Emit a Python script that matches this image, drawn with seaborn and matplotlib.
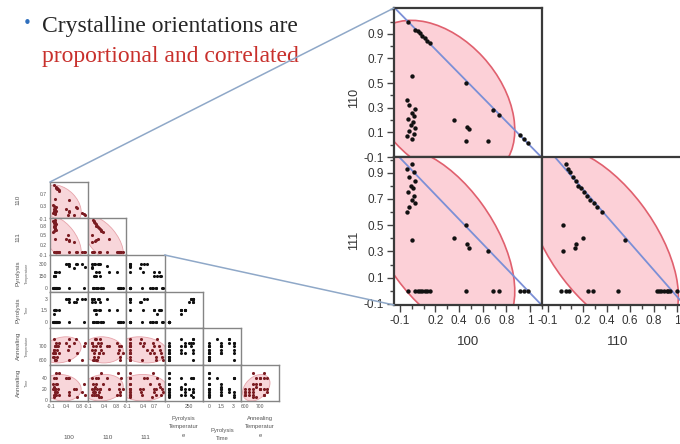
import numpy as np
import pandas as pd
import matplotlib
matplotlib.use("Agg")
import matplotlib.pyplot as plt
import seaborn as sns
from matplotlib.patches import Ellipse
from matplotlib.lines import Line2D
from matplotlib.ticker import FixedLocator

# ---------------- data (one row per sample) ----------------
o100 = [-0.03, 0.03, 0.05, 0.07, 0.09, 0.11, 0.13, 0.15, 0.46, 0.69, 0.74, 0.91, 0.95, 0.985,
        0.455, 0.645,
        0.0, -0.04, 0.02, -0.02, 0.03, -0.01, 0.01, -0.03, 0.02, 0.0, 0.03, -0.02,
        0.0, -0.04, 0.36, 0.47, 0.48]
o110 = [1.00, 0.935, 0.92, 0.91, 0.885, 0.865, 0.845, 0.825, 0.50, 0.285, 0.24, 0.08, 0.05, 0.015,
        0.03, 0.03,
        0.05, 0.07, 0.09, 0.11, 0.135, 0.16, 0.185, 0.21, 0.235, 0.26, 0.29, 0.32,
        0.56, 0.36, 0.20, 0.14, 0.13]
o111 = [0.0, 0.0, 0.0, 0.0, 0.0, 0.0, 0.0, 0.0, 0.0, 0.0, 0.0, 0.0, 0.0, 0.0,
        0.50, 0.305,
        0.965, 0.93, 0.905, 0.87, 0.84, 0.80, 0.78, 0.755, 0.72, 0.695, 0.67, 0.64,
        0.39, 0.60, 0.40, 0.355, 0.33]
pyro_temp = [0, 0, 0, 0, 0, 0, 0, 200, 280, 300, 300, 300, 0, 270,
             300, 250,
             0, 0, 150, 150, 200, 150, 0, 0, 200, 150, 0, 0,
             200, 0, 300, 0, 300]
pyro_time = [0, 0, 0, 0, 0, 0, 0, 1.5, 3, 2.5, 3, 3, 0, 3,
             3, 2.5,
             0, 0, 1.5, 1.5, 1.5, 1, 0, 0, 1.5, 1.5, 0, 0,
             1.5, 0, 3, 0, 2.5]
anneal_temp = [650, 700, 600, 625, 675, 700, 650, 725, 700, 750, 650, 600, 700, 725,
               675, 725,
               600, 625, 650, 675, 700, 750, 600, 625, 650, 700, 725, 675,
               700, 650, 725, 600, 750]
anneal_time = [20, 40, 10, 15, 30, 20, 50, 10, 40, 20, 5, 15, 30, 10,
               40, 20,
               15, 20, 10, 25, 30, 40, 20, 10, 15, 20, 50, 5,
               20, 30, 40, 10, 15]

variables = ["o100", "o110", "o111", "ptemp", "ptime", "atemp", "atime"]
row_titles = {"o110": ("110", None), "o111": ("111", None),
              "ptemp": ("Pyrolysis", "Temperature"), "ptime": ("Pyrolysis", "Time"),
              "atemp": ("Annealing", "Temperature"), "atime": ("Annealing", "Time")}
col_titles = {"o100": ["100"], "o110": ["110"], "o111": ["111"],
              "ptemp": ["Pyrolysis", "Temperatur", "e"], "ptime": ["Pyrolysis", "Time"],
              "atemp": ["Annealing", "Temperatur", "e"]}
small_ticks = {"o100": [-0.1, 0.4, 0.8], "o110": [-0.1, 0.3, 0.7], "o111": [-0.1, 0.2, 0.5, 0.8],
               "ptemp": [0, 150, 300], "ptime": [0, 1.5, 3], "atemp": [600, 700], "atime": [0, 20, 40]}
small_xticks = {"o100": [-0.1, 0.4, 0.8], "o110": [-0.1, 0.4, 0.8], "o111": [-0.1, 0.4, 0.7],
                "ptemp": [0, 250], "ptime": [0, 1.5, 3], "atemp": [600, 700]}
zoom_yticks = [-0.1, 0.1, 0.3, 0.5, 0.7, 0.9]
zoom_xticks = [-0.1, 0.2, 0.4, 0.6, 0.8, 1.0]
zoom_xlabels = ["-0.1", "0.2", "0.4", "0.6", "0.8", "1"]

title_line1 = "Crystalline orientations are"
title_line2 = "proportional and correlated"

df = pd.DataFrame({"o100": o100, "o110": o110, "o111": o111, "ptemp": pyro_temp,
                   "ptime": pyro_time, "atemp": anneal_temp, "atime": anneal_time})

# ---------------- style ----------------
sns.set_theme(style="white")
plt.rcParams["font.family"] = ["Liberation Sans", "DejaVu Sans"]
plt.rcParams["axes.unicode_minus"] = False

W, H = 680, 444
fig = plt.figure(figsize=(W / 100, H / 100), dpi=100)
fig.patch.set_facecolor("white")


def px_axes(l, t, r, b):
    return fig.add_axes([l / W, 1 - b / H, (r - l) / W, (b - t) / H])


def density_ellipse(ax, x, y, level, fc, ec, lw):
    x = np.asarray(x, float)
    y = np.asarray(y, float)
    cov = np.cov(x, y)
    vals, vecs = np.linalg.eigh(cov)
    k = np.sqrt(-2 * np.log(1 - level))
    ang = np.degrees(np.arctan2(vecs[1, 1], vecs[0, 1]))
    e = Ellipse((x.mean(), y.mean()), 2 * k * np.sqrt(vals[1]), 2 * k * np.sqrt(vals[0]),
                angle=ang, fc=fc, ec=ec, lw=lw, zorder=0)
    e.set_clip_path(ax.patch)
    ax.add_patch(e)


lims = {"o100": (-0.15, 1.10), "o110": (-0.10, 1.11), "o111": (-0.108, 1.02),
        "ptemp": (-50, 420), "ptime": (-0.75, 3.9), "atemp": (570, 830), "atime": (-2, 66)}

# ---------------- title text ----------------
fig.text(27 / W, 1 - 23 / H, "\u2022", color="#2f6fbd", fontsize=11, ha="center", va="center",
         family="DejaVu Sans")
fig.text(42 / W, 1 - 32 / H, title_line1, fontsize=17, family="Liberation Serif",
         color="#262626", va="baseline")
fig.text(42 / W, 1 - 62 / H, title_line2, fontsize=17, family="Liberation Serif",
         color="#c8302c", va="baseline")

# ---------------- small scatterplot matrix ----------------
x0, cw, y0, ch = 50, 38.2, 182, 36.5
pink_pairs = {("o110", "o100"), ("o111", "o100"), ("o111", "o110"),
              ("atemp", "o100"), ("atemp", "o110"), ("atemp", "o111"),
              ("atime", "o100"), ("atime", "o110"), ("atime", "o111"), ("atime", "atemp")}
rows = variables[1:]
cols = variables[:-1]
small_axes = {}
for i, rv in enumerate(rows):
    for j, cv in enumerate(cols[: i + 1]):
        ax = px_axes(x0 + j * cw, y0 + i * ch, x0 + (j + 1) * cw, y0 + (i + 1) * ch)
        small_axes[(i, j)] = ax
        pink = (rv, cv) in pink_pairs
        if pink:
            density_ellipse(ax, df[cv], df[rv], 0.85, "#f8d6da", "#e7a3aa", 0.6)
        sns.scatterplot(data=df, x=cv, y=rv, ax=ax, color="#7b1c22" if pink else "#111111",
                        s=5, linewidth=0, legend=False, zorder=3)
        ax.set_xlim(*lims[cv])
        ax.set_ylim(*lims[rv])
        ax.set_xlabel("")
        ax.set_ylabel("")
        for sp in ax.spines.values():
            sp.set_color("#858585")
            sp.set_linewidth(1.0)
        ax.tick_params(length=1.5, width=0.5, color="#777", labelsize=3.6, labelcolor="#555", pad=0.5)
        if j == 0:
            ax.set_yticks(small_ticks[rv])
            ax.set_yticklabels([("%g" % v) for v in small_ticks[rv]])
        else:
            ax.set_yticks([])
        if i == len(rows) - 1:
            ax.set_xticks(small_xticks[cv])
            ax.set_xticklabels([("%g" % v) for v in small_xticks[cv]])
        else:
            ax.set_xticks([])

for i, rv in enumerate(rows):
    main, sub = row_titles[rv]
    cy = 1 - (y0 + (i + 0.5) * ch) / H
    fig.text(18 / W, cy, main, rotation=90, fontsize=4.6, color="#555", ha="center", va="center")
    if sub:
        fig.text(27 / W, cy, sub, rotation=90, fontsize=2.8, color="#666", ha="center", va="center")

for j, cv in enumerate(cols):
    cx = (x0 + (j + 0.5) * cw) / W
    lines = col_titles[cv]
    if len(lines) == 1:
        fig.text(cx, 1 - 437 / H, lines[0], fontsize=4.6, color="#555", ha="center", va="center")
    else:
        ystart = 418 if len(lines) == 3 else 430
        for k, t in enumerate(lines):
            fig.text(cx, 1 - (ystart + k * 8.5) / H, t, fontsize=4.2, color="#555",
                     ha="center", va="center")

# ---------------- zoomed panels ----------------
zoom_specs = [("o100", "o110", "o111", (394, 8, 542, 157)),
              ("o100", "o111", "o110", (394, 157, 542, 305)),
              ("o110", "o111", "o100", (542, 157, 689, 305))]
zoom_axes = []
for k, (xv, yv, zv, box) in enumerate(zoom_specs):
    ax = px_axes(*box)
    zoom_axes.append(ax)
    density_ellipse(ax, df[xv], df[yv], 0.85, "#fcd0d7", "#e0606e", 1.2)
    edge = df[df[zv] < 0.04]
    m, b = np.polyfit(edge[xv], edge[yv], 1)
    ax.axline((0, b), slope=m, color="#7b8fd6", lw=1.3, zorder=2)
    sns.scatterplot(data=df, x=xv, y=yv, ax=ax, color="#111111", s=10, linewidth=0,
                    legend=False, zorder=4)
    ax.set_xlim(-0.15, 1.10)
    ax.set_ylim(*lims[yv])
    ax.set_xlabel("")
    ax.set_ylabel("")
    for sp in ax.spines.values():
        sp.set_color("#3a3a3a")
        sp.set_linewidth(1.6)
    ax.tick_params(which="both", direction="out", color="#444", labelcolor="#333",
                   labelsize=8.5, width=1.0, pad=2)
    ax.tick_params(which="major", length=5)
    ax.tick_params(which="minor", length=3)
    minors = [v / 10 for v in range(-1, 12)]
    if k < 2:
        ax.set_yticks(zoom_yticks)
        ax.set_yticklabels([("%g" % v) for v in zoom_yticks])
        ax.yaxis.set_minor_locator(FixedLocator([v for v in minors if v not in zoom_yticks]))
        ax.yaxis.set_tick_params(which="both", left=True)
    else:
        ax.set_yticks([])
    if k > 0:
        ax.set_xticks(zoom_xticks)
        ax.set_xticklabels(zoom_xlabels)
        ax.xaxis.set_minor_locator(FixedLocator([v for v in minors if v not in zoom_xticks]))
        ax.xaxis.set_tick_params(which="both", bottom=True)
    else:
        ax.set_xticks([])

fig.text(354 / W, 1 - 98 / H, "110", rotation=90, fontsize=9, color="#333", ha="center", va="center")
fig.text(354 / W, 1 - 240 / H, "111", rotation=90, fontsize=9, color="#333", ha="center", va="center")
fig.text(468 / W, 1 - 342 / H, "100", fontsize=9.5, color="#333", ha="center", va="center")
fig.text(618 / W, 1 - 342 / H, "110", fontsize=9.5, color="#333", ha="center", va="center")

# ---------------- connector lines ----------------
def fig_pt(ax, fx, fy):
    p = ax.get_position()
    return p.x0 + fx * p.width, p.y0 + fy * p.height

a1 = fig_pt(small_axes[(0, 0)], 0, 1)
b1 = fig_pt(zoom_axes[0], 0, 1)
a2 = fig_pt(small_axes[(2, 2)], 1, 1)
b2 = fig_pt(zoom_axes[1], 0, 0)
for a, bpt in ((a1, b1), (a2, b2)):
    fig.add_artist(Line2D([a[0], bpt[0]], [a[1], bpt[1]], transform=fig.transFigure,
                          color="#8fa8c8", lw=1.1, zorder=10))

fig.savefig("out.png", dpi=100, facecolor="white")
